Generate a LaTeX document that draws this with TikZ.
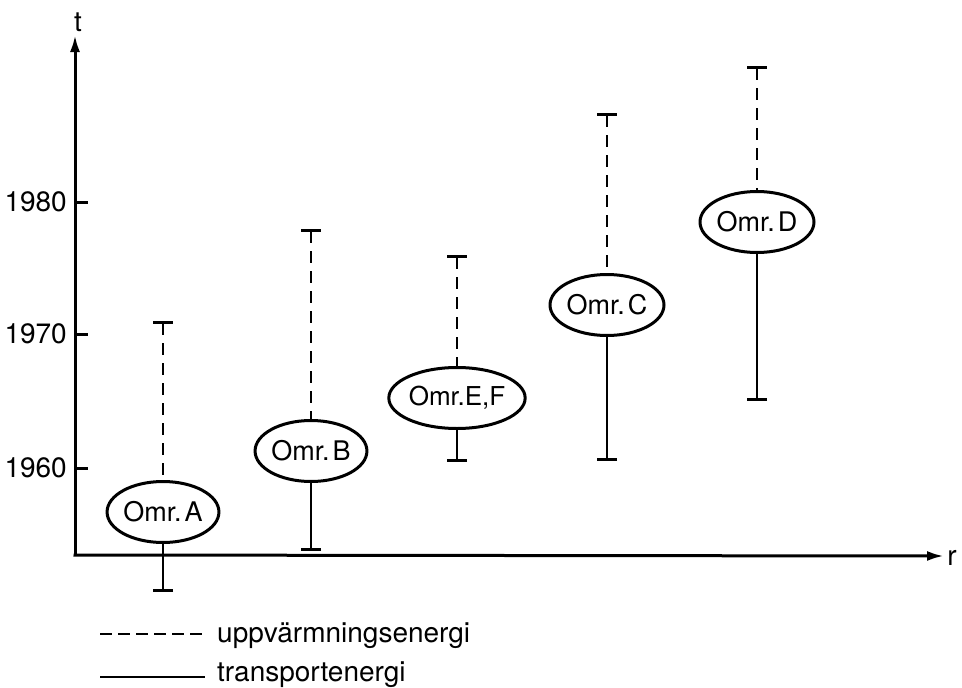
\documentclass[tikz,border=0pt]{standalone}
\usepackage{fontspec}
\setmainfont{TeX Gyre Heros}
\usetikzlibrary{shapes.geometric,arrows.meta}
\begin{document}
\begin{tikzpicture}[x=1pt,y=-1pt,
  ax/.style={line width=3pt,-{Latex[length=17pt,width=10pt]}},
  tick/.style={line width=3pt},
  omr/.style={ellipse,draw,line width=3pt,minimum width=107pt,minimum height=61pt,inner sep=0pt,font=\fontsize{27}{30}\selectfont},
  hi/.style={line width=2.8pt,dash pattern=on 12pt off 8pt,{Bar[width=20pt]}-},
  lo/.style={line width=2.8pt,-{Bar[width=20pt]}},
  lbl/.style={inner sep=0pt,font=\fontsize{28}{30}\selectfont},
  leg/.style={inner sep=0pt,font=\fontsize{28}{32}\selectfont},
]
\useasboundingbox (0,0) rectangle (962,688);
% axes
\coordinate (O) at (75,555);
\coordinate (tend) at (75,35);
\coordinate (rend) at (944,556);
\draw[ax] (O) -- (tend);
\draw[ax] ([xshift=-1.5pt]O) -- (rend);
\node[lbl] (tl) at (78,22) {t};
\node[lbl] (rl) at (952,558) {r};
% ticks and years
\foreach \y/\yr in {202/1980,334/1970,468/1960}{
  \draw[tick] (75,\y) -- (88,\y);
  \node[lbl,anchor=east] (y\yr) at (67,\y) {\yr};
}
% areas
\node[omr] (A) at (163,512) {Omr.\hspace{3pt}A};
\coordinate (At) at (163,321); \coordinate (Ab) at (163,592);
\node[omr] (B) at (311,451) {Omr.\hspace{3pt}B};
\coordinate (Bt) at (311,229); \coordinate (Bb) at (311,551);
\node[omr,font=\fontsize{26}{30}\selectfont] (EF) at (457,398) {Omr.E,F};
\coordinate (EFt) at (457,255); \coordinate (EFb) at (457,462);
\node[omr] (C) at (607,305) {Omr.\hspace{3pt}C};
\coordinate (Ct) at (607,113); \coordinate (Cb) at (607,461);
\node[omr] (D) at (757,222) {Omr.\hspace{3pt}D};
\coordinate (Dt) at (757,66); \coordinate (Db) at (757,401);
\foreach \n in {A,B,EF,C,D}{
  \draw[hi] (\n t) -- (\n.north);
  \draw[lo] (\n.south) -- (\n b);
}
% legend
\node[leg,anchor=base west] (leg1) at (217,642) {uppvärmningsenergi};
\node[leg,anchor=base west] (leg2) at (217,681) {transportenergi};
\coordinate (l1a) at (100,634); \coordinate (l1b) at (205,634);
\coordinate (l2a) at (100,677); \coordinate (l2b) at (205,677);
\draw[line width=2.8pt,dash pattern=on 12pt off 6pt] (l1a) -- (l1b);
\draw[line width=2.8pt] (l2a) -- (l2b);
\end{tikzpicture}
\end{document}
